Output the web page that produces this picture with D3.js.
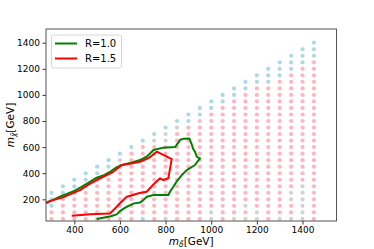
<!DOCTYPE html>
<html>
<head>
<meta charset="utf-8">
<script src="https://cdn.jsdelivr.net/npm/d3@7"></script>
<style>
body { margin: 0; background: #fff; }
text { font-family: "DejaVu Sans", sans-serif; }
</style>
</head>
<body>
<div id="chart"></div>
<script>
// grid of scanned points: m_delta from 300 to 1450, m_chi from 50 to m_delta-50
var mDelta = [300,350,400,450,500,550,600,650,700,750,800,850,900,950,1000,1050,1100,1150,1200,1250,1300,1350,1400,1450];
var mChiStep = 50;

// points that are not pink
var bluePoints = [[300,150],[700,50],[1250,1100],[1300,1150],[1350,1200],[1400,1250],[1450,1300]];
var greyPoints = [[600,500],[750,650],[800,700],[800,650],[850,750],
  [800,50],[1000,50],[1000,100],[1100,50],[1150,50],[1150,150],[1200,50],[1200,100],
  [1300,50],[1350,50],[1350,200],[1350,250],[1400,50],[1400,100],[1400,150],[1400,200],[1400,250],[1400,300]];
var pinkPoints = [[650,550],[700,600]];

// contour R=1.0
var curveR10 = [[276,177],[300,190],[337,220],[400,265],[432,296],[470,335],[498,366],[530,385],[557,411],
  [580,440],[608,463],[650,480],[688,501],[720,530],[747,578],[790,596],[842,600],[864,656],[880,665],
  [904,667],[915,620],[920,590],[930,560],[937,526],[951,514],[940,490],[929,463],[893,424],[871,386],
  [850,340],[834,296],[820,260],[812,233],[747,233],[718,220],[700,190],[688,175],[662,169],[630,143],
  [618,131],[600,110],[586,85],[560,70],[498,49]];
// contour R=1.5
var curveR15 = [[276,170],[300,190],[350,215],[425,271],[460,310],[498,348],[571,411],[608,463],[650,475],
  [688,488],[730,520],[761,565],[790,540],[820,514],[827,509],[812,361],[790,348],[776,361],[750,320],
  [717,258],[681,246],[650,230],[630,220],[600,170],[586,143],[564,105],[557,92],[470,85],[389,74]];

var xTicks = [400,600,800,1000,1200,1400];
var yTicks = [200,400,600,800,1000,1200,1400];
var legendNames = ["R=1.0","R=1.5"];
var legendColors = ["green","red"];

var W = 374, H = 249;
var pLeft = 46, pRight = 336.5, pTop = 29, pBottom = 221;

var svg = d3.select("#chart").append("svg").attr("width", W).attr("height", H);

var x = d3.scaleLinear().domain([276, 1549]).range([pLeft, pRight]);
var y = d3.scaleLinear().domain([34, 1505]).range([pBottom, pTop]);

function key(p) { return p[0] + "_" + p[1]; }
var colorOf = {};
bluePoints.forEach(function(p){ colorOf[key(p)] = "#add8e6"; });
greyPoints.forEach(function(p){ colorOf[key(p)] = "#d3d3d3"; });
pinkPoints.forEach(function(p){ colorOf[key(p)] = "#ffb6c1"; });

var pts = [];
mDelta.forEach(function(md){
  for (var mc = mChiStep; mc <= md - mChiStep; mc += mChiStep) {
    var c = colorOf[key([md,mc])];
    if (!c) c = (md - mc <= 100) ? "#add8e6" : "#ffb6c1";
    pts.push({md: md, mc: mc, c: c});
  }
});

svg.append("g").selectAll("circle").data(pts).enter().append("circle")
  .attr("cx", function(d){ return x(d.md); })
  .attr("cy", function(d){ return y(d.mc); })
  .attr("r", 2.1)
  .attr("fill", function(d){ return d.c; });

var line = d3.line().x(function(d){ return x(d[0]); }).y(function(d){ return y(d[1]); });
svg.append("path").attr("d", line(curveR10)).attr("fill","none").attr("stroke","green").attr("stroke-width",2).attr("stroke-linejoin","round");
svg.append("path").attr("d", line(curveR15)).attr("fill","none").attr("stroke","red").attr("stroke-width",2).attr("stroke-linejoin","round");

// axes
var xAxis = svg.append("g").attr("transform","translate(0,"+pBottom+")")
  .call(d3.axisBottom(x).tickValues(xTicks).tickFormat(d3.format("d")).tickSize(3.5).tickPadding(2.5));
var yAxis = svg.append("g").attr("transform","translate("+pLeft+",0)")
  .call(d3.axisLeft(y).tickValues(yTicks).tickFormat(d3.format("d")).tickSize(3.5).tickPadding(2.5));
[xAxis, yAxis].forEach(function(a){
  a.select(".domain").remove();
  a.selectAll("text").attr("font-size", 9).attr("fill", "#000").attr("font-family","DejaVu Sans, sans-serif");
  a.selectAll("line").attr("stroke", "#000").attr("stroke-width", 0.8);
});

svg.append("rect").attr("x", pLeft).attr("y", pTop).attr("width", pRight-pLeft).attr("height", pBottom-pTop)
  .attr("fill","none").attr("stroke","#555").attr("stroke-width",1);

// axis labels
var xl = svg.append("text").attr("x", (pLeft+pRight)/2).attr("y", 245).attr("text-anchor","middle").attr("font-size",10.5);
xl.append("tspan").attr("font-style","italic").text("m");
xl.append("tspan").attr("font-size",7.5).attr("dy",2).attr("font-style","italic").text("δ̃");
xl.append("tspan").attr("dy",-2).text("[GeV]");

var yl = svg.append("text").attr("transform","translate(14,"+((pTop+pBottom)/2)+") rotate(-90)")
  .attr("text-anchor","middle").attr("font-size",10.5);
yl.append("tspan").attr("font-style","italic").text("m");
yl.append("tspan").attr("font-size",7.5).attr("dy",2).attr("font-style","italic").text("χ̃");
yl.append("tspan").attr("dy",-2).text("[GeV]");

// legend
var lg = svg.append("g");
lg.append("rect").attr("x",51.5).attr("y",35).attr("width",70).attr("height",33).attr("rx",2)
  .attr("fill","#fff").attr("fill-opacity",0.8).attr("stroke","#ccc").attr("stroke-width",0.8);
legendNames.forEach(function(n,i){
  var yy = 43.5 + i*15;
  lg.append("line").attr("x1",55).attr("x2",77).attr("y1",yy).attr("y2",yy).attr("stroke",legendColors[i]).attr("stroke-width",2);
  lg.append("text").attr("x",85).attr("y",yy+3.8).attr("font-size",10).text(n);
});
</script>
</body>
</html>
